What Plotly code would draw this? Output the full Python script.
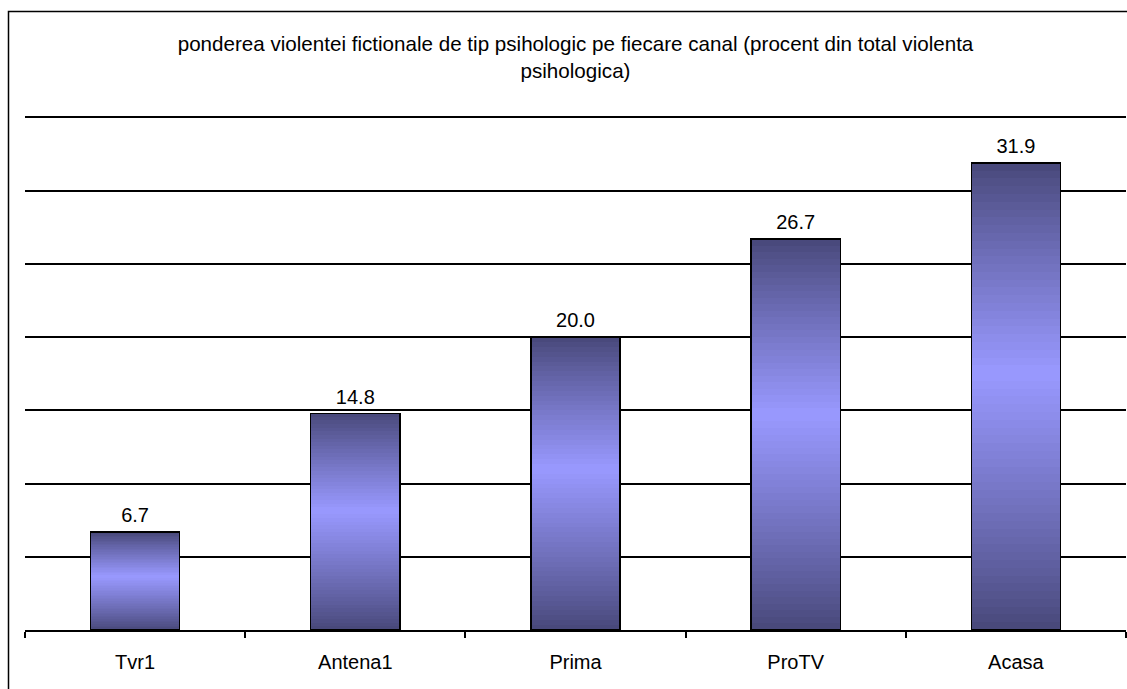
import plotly.graph_objects as go

categories = ["Tvr1", "Antena1", "Prima", "ProTV", "Acasa"]
values = [6.7, 14.8, 20.0, 26.7, 31.9]
labels = ["6.7", "14.8", "20.0", "26.7", "31.9"]
title_text = ("ponderea violentei fictionale de tip psihologic pe fiecare canal (procent din total violenta"
              "<br>psihologica)")

FONT = "Liberation Sans, Arial"
DARK = (71, 71, 120)
LIGHT = (153, 153, 255)
N = 60
PEAK = 0.55  # fraction from bottom where the bar is lightest


def grad_color(t):
    if t <= PEAK:
        f = t / PEAK
    else:
        f = (1 - t) / (1 - PEAK)
    f = max(0.0, min(1.0, f)) ** 0.9
    c = [round(DARK[i] + (LIGHT[i] - DARK[i]) * f) for i in range(3)]
    return "rgb(%d,%d,%d)" % tuple(c)


fig = go.Figure()

for k in range(N):
    t = (k + 0.5) / N
    fig.add_trace(go.Bar(
        x=categories, y=[v / N for v in values],
        marker=dict(color=grad_color(t), line=dict(width=0)),
        width=0.405, hoverinfo="skip", showlegend=False,
    ))

# outline on an overlaid axis
fig.add_trace(go.Bar(
    x=categories, y=values, yaxis="y2",
    marker=dict(color="rgba(0,0,0,0)", line=dict(color="#000000", width=1.5)),
    width=0.405, showlegend=False,
))
# value labels
fig.add_trace(go.Scatter(
    x=categories, y=values, yaxis="y2", mode="markers+text",
    marker=dict(size=6, opacity=0), text=labels, textposition="top center",
    textfont=dict(family=FONT, size=20, color="#000000"),
    cliponaxis=False, showlegend=False, hoverinfo="skip",
))

ppu = 513 / 35.0
top_ext = 0.1
plot_top = 630 - ppu * (35 + top_ext)
plot_h = 630 - plot_top
fig.update_layout(
    width=1127, height=689,
    margin=dict(l=25, r=1, t=plot_top, b=59),
    paper_bgcolor="white", plot_bgcolor="white",
    barmode="stack", bargap=0.595,
    font=dict(family=FONT, size=20, color="#000000"),
    title=dict(text=title_text, x=0.5, xanchor="center", xref="paper",
               y=1 - 51 / 689, yanchor="top",
               font=dict(family=FONT, size=20.6, color="#000000")),
    xaxis=dict(showline=True, linecolor="#000000", linewidth=1.5,
               ticks="outside", tickson="boundaries", ticklen=6, tickcolor="#000000",
               tickwidth=1.5, showgrid=False, ticklabelstandoff=13,
               tickfont=dict(family=FONT, size=20)),
    yaxis=dict(range=[0, 35 + top_ext], tick0=0, dtick=5, showgrid=True,
               gridcolor="#000000", gridwidth=1.5,
               showticklabels=False, zeroline=False, showline=False, ticks=""),
    yaxis2=dict(range=[0, 35 + top_ext], overlaying="y", visible=False),
    shapes=[dict(type="rect", xref="paper", yref="paper",
                 x0=-16.5 / 1101, x1=1.05, y0=-0.3, y1=1 + (plot_top - 11) / plot_h,
                 line=dict(color="#000000", width=1.5), fillcolor="rgba(0,0,0,0)",
                 layer="below")],
)

fig.write_html("out.html", config={"displayModeBar": False},
               post_script="document.body.style.margin='0';document.body.style.overflow='hidden';")
